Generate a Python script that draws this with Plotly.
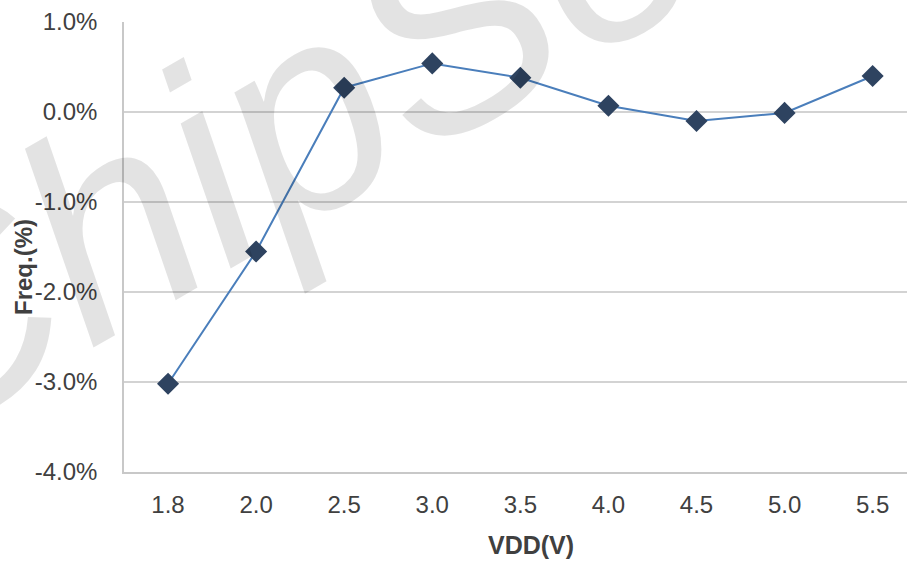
import plotly.graph_objects as go

vdd = ["1.8", "2.0", "2.5", "3.0", "3.5", "4.0", "4.5", "5.0", "5.5"]
freq_dev = [-0.0302, -0.0155, 0.0027, 0.0054, 0.0038, 0.0007, -0.0010, -0.0001, 0.0040]
y_ticks = [0.01, 0.0, -0.01, -0.02, -0.03, -0.04]
y_labels = ["1.0%", "0.0%", "-1.0%", "-2.0%", "-3.0%", "-4.0%"]

W, H = 907, 563
L, R, T, B = 124, 0, 22, 91
font_fam = "Liberation Sans, Arial, sans-serif"
txt = "#404040"


def px(x, y):
    # pixel position -> paper coordinates
    return (x - L) / (W - L - R), (H - B - y) / (H - T - B)


fig = go.Figure([
    go.Scatter(
        x=vdd, y=freq_dev, mode="lines+markers",
        line=dict(color="#4a7ebb", width=2),
        marker=dict(symbol="diamond", size=17, color="#2e4360"),
        showlegend=False,
    )
])

wx, wy = px(335, 95)
tx, ty = px(531, 545)
fx, fy = px(23, 267)
mid = dict(xref="paper", yref="paper", xanchor="center", yanchor="middle", showarrow=False)

fig.update_layout(
    width=W, height=H,
    margin=dict(l=L, r=R, t=T, b=B),
    plot_bgcolor="white",
    paper_bgcolor="white",
    font=dict(family=font_fam, size=24, color=txt),
    xaxis=dict(
        type="category",
        range=[-0.5, 8.39],
        showgrid=False,
        showline=True, linecolor="#c8c8c8", linewidth=1.5,
        ticks="", ticklabelstandoff=10,
        tickfont=dict(size=24, color=txt),
    ),
    yaxis=dict(
        range=[-0.04, 0.01],
        tickvals=y_ticks, ticktext=y_labels,
        showgrid=True, gridcolor="#d3d3d3", gridwidth=1.5,
        zeroline=False,
        showline=True, linecolor="#c8c8c8", linewidth=1.5,
        ticks="", ticklabelstandoff=20,
        tickfont=dict(size=24, color=txt),
    ),
    annotations=[
        dict(text="ChipSea", x=wx, y=wy, textangle=-30,
             font=dict(family=font_fam, size=285, color="rgba(0,0,0,0.11)", style="italic"), **mid),
        dict(text="<b>VDD(V)</b>", x=tx, y=ty, font=dict(size=25, color=txt), **mid),
        dict(text="<b>Freq.(%)</b>", x=fx, y=fy, textangle=-90,
             font=dict(size=24, color=txt), **mid),
    ],
)

fig.write_html("out.html", config={"displayModeBar": False},
               post_script="document.body.style.margin='0';")
